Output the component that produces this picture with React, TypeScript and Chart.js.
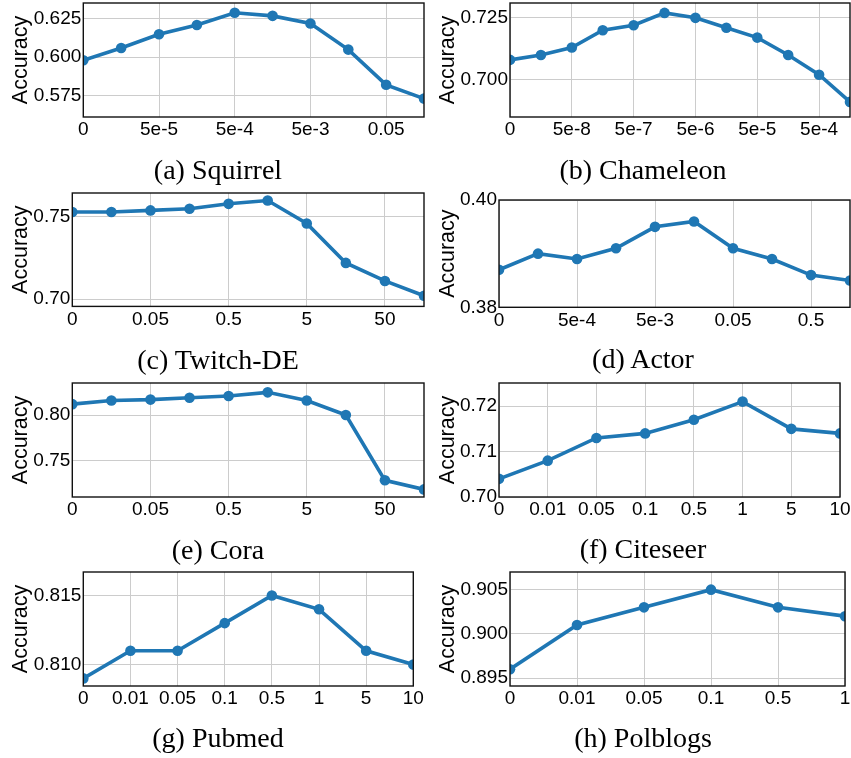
import React, { useEffect, useRef } from 'react';
import { Chart, registerables } from 'chart.js';

Chart.register(...registerables);

// ---------------- data ----------------
const SQUIRREL_X = ['0', '', '5e-5', '', '5e-4', '', '5e-3', '', '0.05', ''];
const SQUIRREL_Y = [0.598, 0.606, 0.615, 0.621, 0.629, 0.627, 0.622, 0.605, 0.582, 0.573];
const SQUIRREL_YTICKS = ['0.575', '0.600', '0.625'];

const CHAMELEON_X = ['0', '', '5e-8', '', '5e-7', '', '5e-6', '', '5e-5', '', '5e-4', ''];
const CHAMELEON_Y = [0.708, 0.71, 0.713, 0.72, 0.722, 0.727, 0.725, 0.721, 0.717, 0.71, 0.702, 0.691];
const CHAMELEON_YTICKS = ['0.700', '0.725'];

const TWITCH_X = ['0', '', '0.05', '', '0.5', '', '5', '', '50', ''];
const TWITCH_Y = [0.753, 0.753, 0.754, 0.755, 0.758, 0.76, 0.746, 0.722, 0.711, 0.702];
const TWITCH_YTICKS = ['0.70', '0.75'];

const ACTOR_X = ['0', '', '5e-4', '', '5e-3', '', '0.05', '', '0.5', ''];
const ACTOR_Y = [0.387, 0.39, 0.389, 0.391, 0.395, 0.396, 0.391, 0.389, 0.386, 0.385];
const ACTOR_YTICKS = ['0.38', '0.40'];

const CORA_X = ['0', '', '0.05', '', '0.5', '', '5', '', '50', ''];
const CORA_Y = [0.812, 0.816, 0.817, 0.819, 0.821, 0.825, 0.816, 0.8, 0.728, 0.718];
const CORA_YTICKS = ['0.75', '0.80'];

const CITESEER_X = ['0', '0.01', '0.05', '0.1', '0.5', '1', '5', '10'];
const CITESEER_Y = [0.704, 0.708, 0.713, 0.714, 0.717, 0.721, 0.715, 0.714];
const CITESEER_YTICKS = ['0.70', '0.71', '0.72'];

const PUBMED_X = ['0', '0.01', '0.05', '0.1', '0.5', '1', '5', '10'];
const PUBMED_Y = [0.809, 0.811, 0.811, 0.813, 0.815, 0.814, 0.811, 0.81];
const PUBMED_YTICKS = ['0.810', '0.815'];

const POLBLOGS_X = ['0', '0.01', '0.05', '0.1', '0.5', '1'];
const POLBLOGS_Y = [0.896, 0.901, 0.903, 0.905, 0.903, 0.902];
const POLBLOGS_YTICKS = ['0.895', '0.900', '0.905'];

// ---------------- layout / style ----------------
const BLUE = '#1f77b4';
const TICK_FONT = 19;
const TITLE_FONT = 21.5;
const SANS = "'Liberation Sans', Arial, Helvetica, sans-serif";
const SERIF = "'Liberation Serif', 'Times New Roman', serif";

type Panel = {
  caption: string;
  xs: string[];
  ys: number[];
  yTicks: string[];
  yMin: number;
  yMax: number;
  colX: number;
  titleX: number;
  plot: [number, number, number, number]; // l, t, r, b
  cap: [number, number];
};

const PANELS: Panel[] = [
  { caption: '(a) Squirrel', xs: SQUIRREL_X, ys: SQUIRREL_Y, yTicks: SQUIRREL_YTICKS, yMin: 0.561, yMax: 0.6354, colX: 0, titleX: 21.5, plot: [83.3, 3.3, 424, 117.3], cap: [218, 172] },
  { caption: '(b) Chameleon', xs: CHAMELEON_X, ys: CHAMELEON_Y, yTicks: CHAMELEON_YTICKS, yMin: 0.6849, yMax: 0.731, colX: 425, titleX: 448, plot: [510, 3.3, 850, 117.3], cap: [643, 172] },
  { caption: '(c) Twitch-DE', xs: TWITCH_X, ys: TWITCH_Y, yTicks: TWITCH_YTICKS, yMin: 0.6955, yMax: 0.7646, colX: 0, titleX: 21.5, plot: [72.3, 193.3, 424, 306.7], cap: [218, 362] },
  { caption: '(d) Actor', xs: ACTOR_X, ys: ACTOR_Y, yTicks: ACTOR_YTICKS, yMin: 0.38, yMax: 0.4, colX: 425, titleX: 448, plot: [499, 200, 850, 307.3], cap: [643, 361] },
  { caption: '(e) Cora', xs: CORA_X, ys: CORA_Y, yTicks: CORA_YTICKS, yMin: 0.7096, yMax: 0.8353, colX: 0, titleX: 21.5, plot: [72.3, 382.7, 424, 496.7], cap: [218, 552] },
  { caption: '(f) Citeseer', xs: CITESEER_X, ys: CITESEER_Y, yTicks: CITESEER_YTICKS, yMin: 0.7, yMax: 0.7251, colX: 425, titleX: 448, plot: [499, 382.7, 840, 496.7], cap: [643, 551] },
  { caption: '(g) Pubmed', xs: PUBMED_X, ys: PUBMED_Y, yTicks: PUBMED_YTICKS, yMin: 0.80845, yMax: 0.8167, colX: 0, titleX: 21.5, plot: [83.3, 571.7, 413.3, 685.7], cap: [218, 740] },
  { caption: '(h) Polblogs', xs: POLBLOGS_X, ys: POLBLOGS_Y, yTicks: POLBLOGS_YTICKS, yMin: 0.8941, yMax: 0.907, colX: 425, titleX: 448, plot: [510, 571.7, 845, 685.7], cap: [643, 740] },
];

const framePlugin = {
  id: 'frame',
  afterDatasetsDraw(chart: any) {
    const { ctx, chartArea } = chart;
    const { left, top, right, bottom } = chartArea;
    ctx.save();
    ctx.strokeStyle = '#111111';
    ctx.lineWidth = 1.4;
    ctx.strokeRect(left, top, right - left, bottom - top);
    ctx.restore();
  },
};

const PAD_TOP = 20;
const PAD_RIGHT = 20;
const X_AXIS_H = 40;

function PanelChart({ p }: { p: Panel }) {
  const ref = useRef<HTMLCanvasElement | null>(null);
  const [l, t, r, b] = p.plot;
  const padLeft = p.titleX - p.colX - TITLE_FONT / 2;
  const yAxisW = l - p.colX - padLeft;
  const canvasLeft = p.colX;
  const canvasTop = t - PAD_TOP;
  const canvasW = Math.ceil(r - p.colX + PAD_RIGHT);
  const canvasH = Math.ceil(PAD_TOP + (b - t) + X_AXIS_H);
  const xAxisH = canvasH - PAD_TOP - (b - t);
  const padRight = canvasW - (r - p.colX);

  useEffect(() => {
    if (!ref.current) return;
    const n = p.xs.length;
    const xTickVals = p.xs.map((s, i) => (s !== '' ? i : -1)).filter((i) => i >= 0);
    const yTickVals = p.yTicks.map((s) => parseFloat(s));
    const chart = new Chart(ref.current, {
      type: 'line',
      data: {
        labels: p.xs,
        datasets: [
          {
            data: p.ys.map((v, i) => ({ x: i, y: v })),
            borderColor: BLUE,
            backgroundColor: BLUE,
            borderWidth: 3.6,
            pointRadius: 5.3,
            pointBackgroundColor: BLUE,
            pointBorderWidth: 0,
            tension: 0,
            clip: 0,
          } as any,
        ],
      },
      options: {
        responsive: false,
        animation: false,
        devicePixelRatio: 1,
        layout: { padding: { left: padLeft, top: PAD_TOP, right: padRight, bottom: 0 } },
        plugins: { legend: { display: false }, tooltip: { enabled: false } },
        events: [],
        scales: {
          x: {
            type: 'linear',
            min: 0,
            max: n - 1,
            afterBuildTicks: (axis: any) => {
              axis.ticks = xTickVals.map((v) => ({ value: v }));
            },
            afterFit: (axis: any) => {
              axis.height = xAxisH;
            },
            ticks: {
              autoSkip: false,
              maxRotation: 0,
              minRotation: 0,
              padding: 3.5,
              color: '#000',
              font: { family: SANS, size: TICK_FONT, lineHeight: 1 },
              callback: (v: any) => p.xs[Math.round(Number(v))] ?? '',
            },
            grid: { color: '#cccccc', lineWidth: 1, drawTicks: false },
            border: { display: false },
          },
          y: {
            type: 'linear',
            min: p.yMin,
            max: p.yMax,
            afterBuildTicks: (axis: any) => {
              axis.ticks = yTickVals.map((v) => ({ value: v }));
            },
            afterFit: (axis: any) => {
              axis.width = yAxisW;
            },
            ticks: {
              padding: 2,
              color: '#000',
              font: { family: SANS, size: TICK_FONT, lineHeight: 1 },
              callback: (v: any) => {
                const idx = yTickVals.findIndex((tv) => Math.abs(tv - Number(v)) < 1e-9);
                return idx >= 0 ? p.yTicks[idx] : '';
              },
            },
            grid: { color: '#cccccc', lineWidth: 1, drawTicks: false },
            border: { display: false },
            title: {
              display: true,
              text: 'Accuracy',
              color: '#000',
              padding: 0,
              font: { family: SANS, size: TITLE_FONT, lineHeight: 1 },
            },
          },
        },
      } as any,
      plugins: [framePlugin],
    });
    return () => chart.destroy();
  }, []);

  return (
    <>
      <canvas
        ref={ref}
        width={canvasW}
        height={canvasH}
        style={{ position: 'absolute', left: canvasLeft, top: canvasTop, width: canvasW, height: canvasH }}
      />
      <div
        style={{
          position: 'absolute',
          left: p.cap[0],
          top: p.cap[1] - 2.5,
          transform: 'translate(-50%, -50%)',
          fontFamily: SERIF,
          fontSize: 28,
          lineHeight: 1,
          whiteSpace: 'nowrap',
          color: '#000',
        }}
      >
        {p.caption}
      </div>
    </>
  );
}

export default function App() {
  return (
    <div
      style={{
        position: 'fixed',
        left: 0,
        top: 0,
        width: 851,
        height: 758,
        overflow: 'hidden',
        background: '#fff',
      }}
    >
      {PANELS.map((p, i) => (
        <PanelChart key={i} p={p} />
      ))}
    </div>
  );
}
